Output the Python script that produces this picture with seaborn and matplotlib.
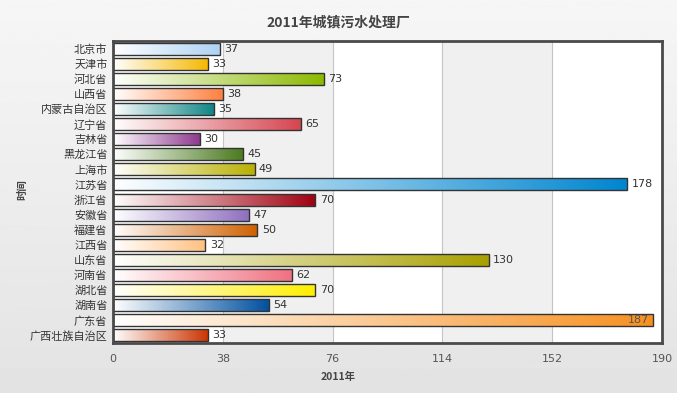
import matplotlib
matplotlib.use("Agg")
import matplotlib.pyplot as plt
import numpy as np
import pandas as pd
import seaborn as sns
from matplotlib.colors import LinearSegmentedColormap

provinces = ["北京市", "天津市", "河北省", "山西省", "内蒙古自治区", "辽宁省", "吉林省",
             "黑龙江省", "上海市", "江苏省", "浙江省", "安徽省", "福建省", "江西省",
             "山东省", "河南省", "湖北省", "湖南省", "广东省", "广西壮族自治区"]
plants = [37, 33, 73, 38, 35, 65, 30, 45, 49, 178, 70, 47, 50, 32, 130, 62, 70, 54, 187, 33]
bar_colors = ["#aed2f4", "#f5b800", "#8bba00", "#ff8040", "#0d8585", "#d64550", "#8e3a8e",
              "#4a7a1e", "#b8b000", "#0085d0", "#a00010", "#9070c0", "#d06000", "#ffc080",
              "#a8a000", "#f07080", "#ffee00", "#0050a0", "#f79020", "#cc3300"]
x_ticks = [0, 38, 76, 114, 152, 190]

sns.set_theme(style="white")
plt.rcParams["font.family"] = ["Noto Sans CJK SC", "DejaVu Sans"]

df = pd.DataFrame({"省份": provinces, "数量": plants})

fig = plt.figure(figsize=(6.77, 3.93), dpi=100)

# grey gradient backdrop
bg = fig.add_axes([0, 0, 1, 1], zorder=-10)
bg.imshow(np.linspace(0.965, 0.89, 256).reshape(-1, 1), cmap="gray", vmin=0, vmax=1,
          aspect="auto", extent=[0, 1, 0, 1])
bg.axis("off")

ax = fig.add_axes([113 / 677, 1 - 343 / 393, 549 / 677, 302 / 393])
ax.set_facecolor("white")

sns.barplot(data=df, x="数量", y="省份", orient="h", width=0.8, ax=ax,
            color="white", edgecolor="#333333", linewidth=1.0, zorder=2)
bars = list(ax.containers[0])

# alternating bands and grid lines
for lo, hi in [(38, 76), (114, 152)]:
    ax.axvspan(lo, hi, color="#f0f0f0", zorder=0, lw=0)
for t in x_ticks[1:-1]:
    ax.axvline(t, color="#c4c4c4", lw=0.8, zorder=0.5)

# gradient fill inside each bar, white -> colour
grad = np.linspace(0, 1, 256).reshape(1, -1)
for patch, col in zip(bars, bar_colors):
    x0, y0 = patch.get_x(), patch.get_y()
    w, h = patch.get_width(), patch.get_height()
    cmap = LinearSegmentedColormap.from_list("g", ["white", col])
    im = ax.imshow(grad, cmap=cmap, aspect="auto", extent=[x0, x0 + w, y0 + h, y0],
                   zorder=1.5, interpolation="bilinear")
    im.set_clip_path(patch)
    patch.set_facecolor("none")

# value labels
for patch, v in zip(bars, plants):
    yc = patch.get_y() + patch.get_height() / 2
    if v > 180:
        ax.text(v - 1.5, yc, str(v), ha="right", va="center", fontsize=8,
                color="#555555", family="DejaVu Sans")
    else:
        ax.text(v + 1.5, yc, str(v), ha="left", va="center", fontsize=8,
                color="#333333", family="DejaVu Sans")

ax.set_xlim(0, 190)
ax.set_ylim(len(provinces) - 0.5, -0.5)
ax.set_xticks(x_ticks)
ax.set_xticklabels([str(t) for t in x_ticks], family="DejaVu Sans")
ax.tick_params(axis="x", length=0, pad=8, labelsize=8, labelcolor="#555555")
ax.tick_params(axis="y", length=0, pad=4, labelsize=8, labelcolor="#333333")
ax.set_xlabel("")
ax.set_ylabel("")
for s in ax.spines.values():
    s.set_visible(True)
    s.set_color("#4a4a4a")
    s.set_linewidth(2)

fig.text(338 / 677, 1 - 22 / 393, "2011年城镇污水处理厂", ha="center", va="center",
         fontsize=10, fontweight="bold", color="#444444")
fig.text(338 / 677, 1 - 377 / 393, "2011年", ha="center", va="center",
         fontsize=7.5, fontweight="bold", color="#444444")
fig.text(22 / 677, 1 - 190 / 393, "时间", ha="center", va="center", rotation=90,
         fontsize=7.5, fontweight="bold", color="#444444")

fig.savefig("out.png", dpi=100)
